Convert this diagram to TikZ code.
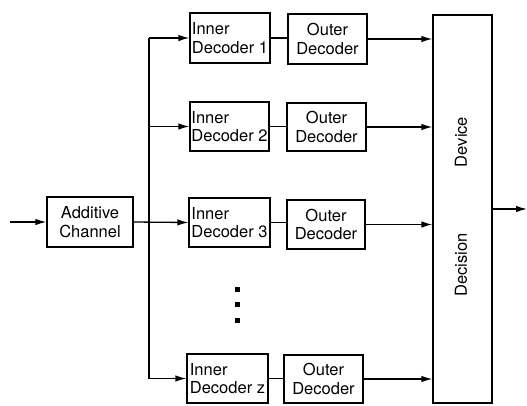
\documentclass[tikz,border=0pt]{standalone}
\usepackage{fontspec}
\setmainfont{TeX Gyre Heros}
\usetikzlibrary{arrows.meta}
\begin{document}
\begin{tikzpicture}[x=1pt,y=-1pt,
  line width=1.3pt,
  blk/.style={draw,rectangle,inner sep=0pt,font=\fontsize{16.5}{18.5}\selectfont},
  arr/.style={-{Latex[length=11pt,width=6.5pt]}},
  lbl/.style={font=\fontsize{16.5}{18.5}\selectfont,rotate=90},
  dotsq/.style={fill,rectangle,minimum size=5pt,inner sep=0pt}]
\useasboundingbox (0,0) rectangle (527,405);
% boxes
\node[blk,minimum width=86pt,minimum height=50pt,align=center] (chan) at (90,222) {Additive\\Channel};
\node[blk,minimum width=80pt,minimum height=50pt,align=left] (in1) at (230,38) {Inner\\Decoder 1};
\node[blk,minimum width=79pt,minimum height=49pt,align=left] (in2) at (229.5,126.5) {Inner\\Decoder 2};
\node[blk,minimum width=81pt,minimum height=49pt,align=left] (in3) at (229.5,222.5) {Inner\\Decoder 3};
\node[blk,minimum width=81pt,minimum height=49pt,align=left] (inz) at (227.5,378.5) {Inner\\Decoder z};
\node[blk,minimum width=79pt,minimum height=50pt,align=center] (out1) at (327.5,39) {Outer\\Decoder};
\node[blk,minimum width=79pt,minimum height=48pt,align=center] (out2) at (326.5,127) {Outer\\Decoder};
\node[blk,minimum width=78pt,minimum height=49pt,align=center] (out3) at (326,224.5) {Outer\\Decoder};
\node[blk,minimum width=79pt,minimum height=48pt,align=center] (outz) at (323.5,379) {Outer\\Decoder};
\node[draw,rectangle,minimum width=59pt,minimum height=388pt,inner sep=0pt] (dec) at (462.5,209) {};
\node[lbl] (device) at (461,142) {Device};
\node[lbl] (decision) at (461,265) {Decision};
% dots
\node[dotsq] (d1) at (237,289) {};
\node[dotsq] (d2) at (237,304) {};
\node[dotsq] (d3) at (237,320) {};
% bus
\coordinate (bus) at (149,0);
\coordinate (input) at (10,222);
\coordinate (output) at (527,209);
\draw[arr] (input) -- (chan.west);
\draw[arr] (chan.east) -- (in3.west);
\draw (in1.west -| bus) -- (inz.west -| bus);
\draw[arr] (in1.west -| bus) -- (in1.west);
\draw[arr] (in2.west -| bus) -- (in2.west);
\draw[arr] (inz.west -| bus) -- (inz.west);
% inner to outer
\draw (in1.east) -- (out1.west |- in1.east);
\draw (in2.east) -- (out2.west |- in2.east);
\draw (in3.east) -- (out3.west |- in3.east);
\draw (inz.east) -- (outz.west |- inz.east);
% outer to decision
\draw[arr] (out1.east) -- (out1.east -| dec.west);
\draw[arr] (out2.east) -- (out2.east -| dec.west);
\draw[arr] (out3.east) -- (out3.east -| dec.west);
\draw[arr] (outz.east) -- (outz.east -| dec.west);
\draw[arr] (dec.east |- output) -- (output);
\end{tikzpicture}
\end{document}
